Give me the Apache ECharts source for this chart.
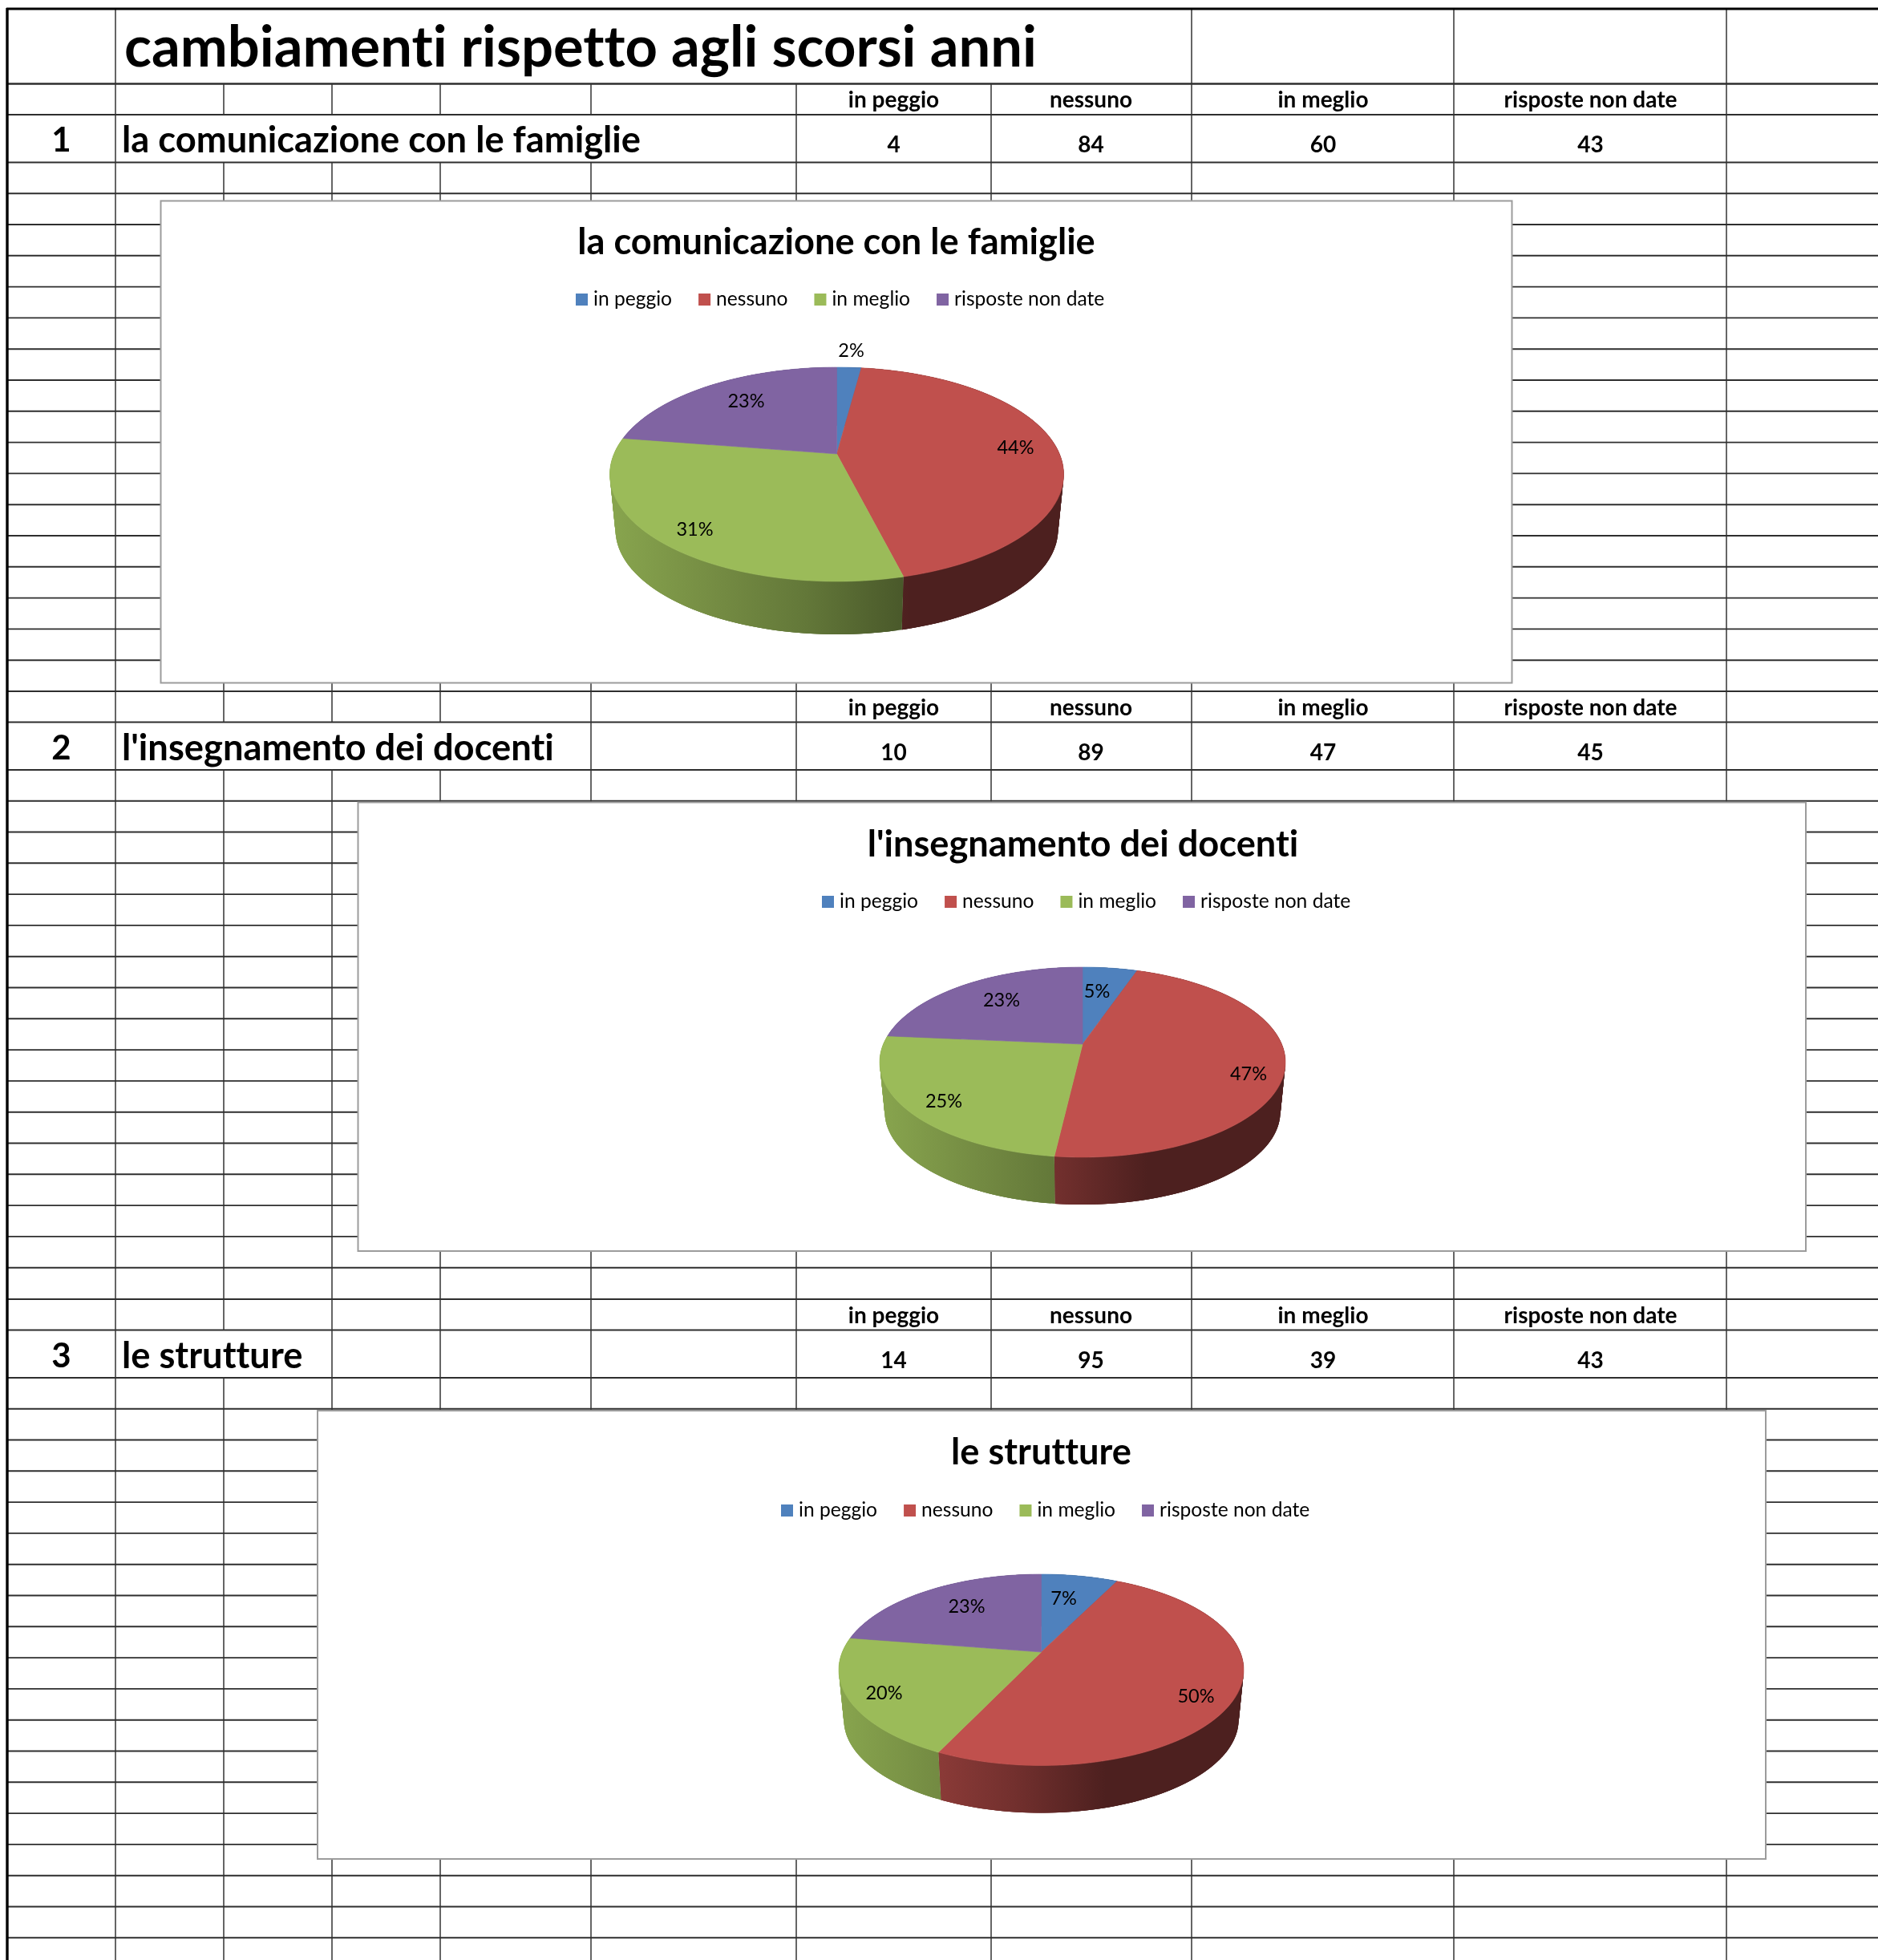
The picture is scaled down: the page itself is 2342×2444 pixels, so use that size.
<!DOCTYPE html>
<html>
<head>
<meta charset="utf-8">
<style>html,body{margin:0;padding:0;background:#fff}#c{width:2342px;height:2444px}</style>
<script src="https://cdn.jsdelivr.net/npm/echarts@6/dist/echarts.min.js"></script>
</head>
<body>
<div id="c"></div>
<script>
// ---------- data ----------
const pageTitle = 'cambiamenti rispetto agli scorsi anni';
const categories = ['in peggio', 'nessuno', 'in meglio', 'risposte non date'];
const questions = ['la comunicazione con le famiglie', "l'insegnamento dei docenti", 'le strutture'];
const valuesFamiglie = [4, 84, 60, 43];
const valuesDocenti = [10, 89, 47, 45];
const valuesStrutture = [14, 95, 39, 43];
const percentFamiglie = ['2%', '44%', '31%', '23%'];
const percentDocenti = ['5%', '47%', '25%', '23%'];
const percentStrutture = ['7%', '50%', '20%', '23%'];
const allValues = [valuesFamiglie, valuesDocenti, valuesStrutture];
const allPercents = [percentFamiglie, percentDocenti, percentStrutture];

// ---------- style & layout ----------
const colors = ['#4F81BD', '#C0504D', '#9BBB59', '#8064A2'];
const wallShades = [
  [[0, .88], [1, .4]],
  [[0, .88], [.25, .72], [.43, .6], [.66, .4], [1, .4]],
  [[0, .88], [.25, .74], [.43, .64], [.65, .47], [1, .4]],
  [[0, .88], [1, .4]]
];
const FONT = 'Lato';
const SIZES = {main: 70.5, question: 45.3, number: 42, head: 28, value: 28, chartTitle: 45.2, legend: 24.6, pct: 23.5};
const colX = [144, 279, 414, 549, 737, 993, 1236, 1486, 1813, 2153];
const dataCols = [1114.5, 1360.5, 1650, 1983.5];
const rowH = 38.8;
const sectionTops = [104.5, 862, 1620];
const mergedFrom = [[279, 414, 549, 737], [279, 414, 549], [279]];
const boxes = [
  {l: 200.5, t: 250.5, r: 1885.5, b: 851.5},
  {l: 446.5, t: 1000.5, r: 2252, b: 1560},
  {l: 396, t: 1759, r: 2202, b: 2318}
];
const pies = [
  {cx: 1043.5, apex: 566, top: 458, bot: 725, rx: 283, wallBot: 791,
   labels: [[18, -129], [223, -8], [-177, 94], [-113, -66]]},
  {cx: 1350, apex: 1302, top: 1206, bot: 1443, rx: 253, wallBot: 1502,
   labels: [[18, -66], [207, 37], [-173, 71], [-101, -55]]},
  {cx: 1298.5, apex: 2060, top: 1963, bot: 2201.5, rx: 252.5, wallBot: 2260.5,
   labels: [[28, -67], [193, 55], [-196, 51], [-93, -57]]}
];
const legendPos = [{x: 718, y: 361}, {x: 1025, y: 1112}, {x: 974, y: 1871}];
const titlePos = [{x: 1043, y: 302}, {x: 1350.5, y: 1053}, {x: 1298.5, y: 1811}];
const RIM = 0.975;

// no ligatures: the reference's typeface does not join "tt" / "ti"
['fillText', 'strokeText', 'measureText'].forEach(m => {
  const orig = CanvasRenderingContext2D.prototype[m];
  CanvasRenderingContext2D.prototype[m] = function () {
    this.textRendering = 'optimizeSpeed';
    return orig.apply(this, arguments);
  };
});

// ---------- table ----------
const g = [];
const hLine = (x1, x2, y, w, c) => g.push({type: 'line', z: 0, silent: true,
  shape: {x1, y1: y, x2, y2: y}, style: {stroke: c || '#2e2e2e', lineWidth: w || 1.9}});
const vLine = (x, y1, y2, w, c) => g.push({type: 'line', z: 0, silent: true,
  shape: {x1: x, y1, x2: x, y2}, style: {stroke: c || '#333', lineWidth: w || 1.5}});
const txt = (text, x, y, size, weight, align) => g.push({type: 'text', z: 3, x, y, silent: true,
  style: {text, fill: '#000', fontFamily: FONT, fontSize: size, fontWeight: weight || 'bold',
          align: align || 'center', verticalAlign: 'middle'}});

const END = 2444, TOP = 11;
[144, 1486, 1813, 2153].forEach(x => vLine(x, TOP, 104.5));
hLine(9, 2342, 104.5);
sectionTops.forEach((t, s) => {
  const h1 = t + 38.5, h2 = h1 + 59.5, h3 = h2 + 38.7;
  const nextTop = s < 2 ? sectionTops[s + 1] : END + rowH;
  [t, h1, h2, h3].forEach(y => hLine(9, 2342, y));
  colX.forEach(x => {
    vLine(x, t, h1);
    if (!mergedFrom[s].includes(x)) vLine(x, h1, h2);
    vLine(x, h2, Math.min(END, nextTop));
  });
  for (let y = h3 + rowH; y < Math.min(END, nextTop - 1); y += rowH) hLine(9, 2342, y);
  categories.forEach((c, i) => {
    txt(c, dataCols[i], t + 20.5, SIZES.head);
    txt(String(allValues[s][i]), dataCols[i], t + 76.5, SIZES.value);
  });
  txt(String(s + 1), 76.5, t + 71, SIZES.number);
  txt(questions[s], 152, t + 71, SIZES.question, 'bold', 'left');
});
txt(pageTitle, 155, 60, SIZES.main, 'bold', 'left');
hLine(8, 2342, TOP, 3.2, '#000');
vLine(9, 10, END, 3.4, '#000');
boxes.forEach(b => g.push({type: 'rect', z: 1, silent: true,
  shape: {x: b.l, y: b.t, width: b.r - b.l, height: b.b - b.t},
  style: {fill: '#fff', stroke: '#9c9c9c', lineWidth: 2}}));

// ---------- perspective pie ----------
function projector(p) {
  const R = (p.bot - p.apex) / (p.apex - p.top);
  const a = (R - 1) / (R + 1);
  const B = (p.bot - p.apex) * (1 - a);
  const A = p.rx * Math.sqrt(1 - a * a);
  const drop = p.wallBot - (p.apex + (p.bot - p.apex) * RIM);
  const map = deg => {
    const t = deg * Math.PI / 180, u = Math.sin(t), v = -Math.cos(t), d = 1 - a * v;
    return [A * u / d, B * v / d];
  };
  return {
    topAt: deg => { const m = map(deg); return [p.cx + m[0], p.apex + m[1]]; },
    rimAt: deg => { const m = map(deg); return [p.cx + m[0] * RIM, p.apex + m[1] * RIM + drop]; }
  };
}
function shade(hex, k) {
  const n = parseInt(hex.slice(1), 16);
  const f = s => Math.round(((n >> s) & 255) * k);
  return `rgb(${f(16)},${f(8)},${f(0)})`;
}
function renderSlice(params, api) {
  const c = params.seriesIndex, i = api.value(0), val = api.value(1);
  const vals = allValues[i], p = pies[i], total = vals.reduce((s, v) => s + v, 0);
  const before = vals.slice(0, c).reduce((s, v) => s + v, 0);
  const a0 = before / total * 360, a1 = (before + val) / total * 360;
  const pr = projector(p), n = Math.max(2, Math.ceil(a1 - a0));
  const topArc = [], rimArc = [];
  for (let k = 0; k <= n; k++) {
    const d = a0 + (a1 - a0) * k / n;
    topArc.push(pr.topAt(d));
    rimArc.push(pr.rimAt(d));
  }
  const grad = new echarts.graphic.LinearGradient(p.cx - p.rx, 0, p.cx + p.rx, 0,
    wallShades[c].map(s => ({offset: s[0], color: shade(colors[c], s[1])})), true);
  const lab = p.labels[c];
  const children = [];
  // overlapping quads, so no background shows through at the joins
  for (let k = 0; k < n; k++) {
    const e = Math.min(n, k + 3);
    children.push({type: 'polygon', z2: 1,
      shape: {points: [topArc[k], topArc[e], rimArc[e], rimArc[k]]},
      style: {fill: grad}});
  }
  children.push(
    {type: 'polygon', z2: 5, shape: {points: [[p.cx, p.apex]].concat(topArc)},
     style: {fill: colors[c], stroke: colors[c], lineWidth: .6}},
    {type: 'text', z2: 10, x: p.cx + lab[0], y: p.apex + lab[1],
     style: {text: allPercents[i][c], fill: '#000', fontFamily: FONT, fontSize: SIZES.pct,
             align: 'center', verticalAlign: 'middle'}}
  );
  return {type: 'group', children};
}

const chart = echarts.init(document.getElementById('c'), null, {renderer: 'canvas'});
chart.setOption({
  animation: false,
  backgroundColor: '#fff',
  title: questions.map((q, i) => ({
    text: q, left: titlePos[i].x, top: titlePos[i].y, textAlign: 'center', textVerticalAlign: 'middle',
    padding: 0,
    textStyle: {fontFamily: FONT, fontSize: SIZES.chartTitle, fontWeight: 'bold', color: '#000'}
  })),
  legend: legendPos.map(l => ({
    data: categories, left: l.x, top: l.y, icon: 'rect', orient: 'horizontal', padding: 0,
    itemWidth: 15, itemHeight: 15, itemGap: 33, selectedMode: false,
    textStyle: {fontFamily: FONT, fontSize: SIZES.legend, color: '#000', padding: [0, 0, 0, 2]}
  })),
  graphic: {elements: g},
  series: categories.map((name, c) => ({
    type: 'custom', name, coordinateSystem: 'none', silent: true, z: 2,
    itemStyle: {color: colors[c]},
    data: allValues.map((v, i) => [i, v[c]]),
    renderItem: renderSlice
  }))
});
</script>
</body>
</html>
